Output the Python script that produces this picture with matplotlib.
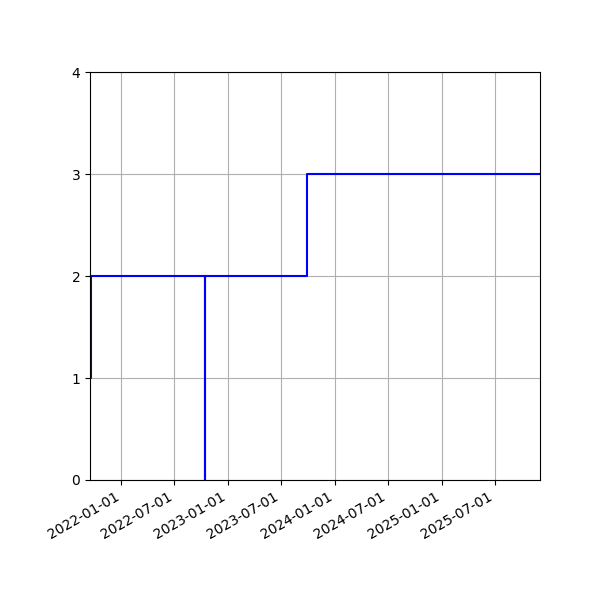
import matplotlib
matplotlib.use("Agg")
import matplotlib.pyplot as plt
import matplotlib.dates as mdates
import numpy as np

# step series
dates = np.array(
    [
        "2021-09-16",
        "2021-09-19",
        "2022-10-14",
        "2022-10-14",
        "2023-09-28",
        "2025-12-02",
    ],
    dtype="datetime64[D]",
)
values = [1, 2, 0, 2, 3, 3]

tick_dates = np.array(
    [
        "2022-01-01",
        "2022-07-01",
        "2023-01-01",
        "2023-07-01",
        "2024-01-01",
        "2024-07-01",
        "2025-01-01",
        "2025-07-01",
    ],
    dtype="datetime64[D]",
)

fig, ax = plt.subplots(figsize=(6, 6), dpi=100)

ax.step(dates, values, where="post", color="blue", linewidth=1.5)

ax.set_xlim(dates[0], dates[-1])
ax.set_ylim(0, 4)
ax.set_yticks([0, 1, 2, 3, 4])
ax.set_xticks(tick_dates)
ax.xaxis.set_major_formatter(mdates.DateFormatter("%Y-%m-%d"))
ax.grid(True)
fig.autofmt_xdate()
fig.subplots_adjust(left=0.15, right=0.9, top=0.88, bottom=0.2)

fig.savefig("out.png", dpi=100)
